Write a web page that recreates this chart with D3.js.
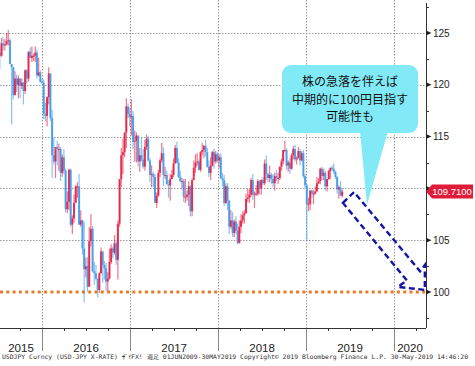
<!DOCTYPE html>
<html><head><meta charset="utf-8">
<script src="https://cdn.jsdelivr.net/npm/d3@7"></script>
<style>body{margin:0;background:#fff}svg{display:block}</style></head>
<body><svg id="c" width="475" height="366"></svg>
<script>
// ---------- data (weekly USDJPY, week ending Friday) ----------
const firstWeek = "2015-07-03";
const firstOpen = 122.3;
const close2015 = [123.1,122.8,124.0,123.8,123.9,124.2,124.3,122.0,121.7,119.0,120.6,120.0,120.6,119.9,120.2,119.4,121.4,120.6,123.2,122.6,122.8,122.8,123.1,120.9,121.2,120.3];
const high2015  = [124.0,123.6,124.5,124.6,124.4,125.0,125.3,124.5,122.0,121.7,121.3,121.0,120.9,120.6,120.6,120.3,121.5,121.5,123.2,123.6,123.7,123.0,123.7,123.4,122.6,121.4];
const low2015   = [122.0,121.5,122.7,123.3,123.3,123.8,123.8,122.0,116.2,118.6,119.2,119.3,118.7,118.7,119.6,118.1,119.1,120.1,120.3,122.6,122.2,122.3,122.2,120.6,120.8,120.2];
const close2016 = [120.2,117.2,117.0,118.8,121.1,116.8,113.2,112.6,114.0,113.8,113.8,111.5,113.0,111.7,108.0,108.7,111.8,106.5,107.1,108.6,110.2,110.2,106.5,106.9,104.2,102.2,102.5,100.5,104.9,106.1,102.0,101.8,101.3,100.2,101.8,103.9,102.6,102.3,101.0,101.3,102.9,104.2,103.8,104.7,103.1,106.6,110.9,113.2,113.5,115.4,117.9,117.2,116.9];
const high2016  = [120.6,120.5,118.3,118.9,121.7,121.0,117.6,114.9,113.6,114.6,114.3,114.0,113.3,113.8,111.9,109.7,111.9,111.9,107.4,109.4,110.3,110.6,111.4,107.9,107.0,106.8,103.3,103.4,106.3,107.5,106.4,102.9,102.6,101.3,101.9,104.3,104.0,103.0,102.8,101.9,104.2,104.6,104.4,105.5,105.0,106.9,110.9,113.9,114.8,115.4,118.7,118.2,117.8];
const low2016   = [120.1,116.7,116.5,116.0,118.1,116.5,111.0,112.3,111.0,112.2,111.7,110.7,111.1,111.4,107.7,107.6,107.9,106.3,105.6,106.7,108.7,109.1,106.5,106.3,103.6,99.0,101.4,100.0,100.6,104.4,101.9,100.7,101.1,99.5,99.9,101.8,100.9,101.2,100.1,100.1,101.2,102.7,103.3,103.6,102.6,101.2,106.3,110.1,111.4,113.0,113.9,116.8,116.0];
const close2017 = [117.0,114.5,114.6,115.1,112.6,113.2,112.8,112.1,114.0,114.8,112.7,111.3,111.4,111.1,108.6,109.3,111.5,112.7,113.4,111.3,111.3,110.4,110.3,110.9,111.3,112.4,113.9,112.5,111.1,110.7,110.7,109.2,109.2,109.4,110.2,107.8,110.8,112.0,112.5,112.6,111.8,113.5,113.7,114.1,113.5,112.1,111.5,112.2,113.5,112.6,113.3,112.7];
const high2017  = [118.6,117.5,115.6,115.4,115.1,113.9,114.9,113.8,114.7,115.2,115.0,112.9,112.2,111.6,111.4,109.6,111.8,112.9,114.4,114.0,112.1,111.7,110.8,111.4,111.8,112.9,114.2,114.5,112.9,111.7,111.0,110.9,110.9,109.8,110.7,110.3,111.0,112.7,113.3,113.4,112.8,113.6,114.4,114.2,114.7,113.9,112.7,113.0,113.6,113.8,113.6,113.5];
const low2017   = [115.1,113.8,112.6,112.5,112.1,111.6,112.6,111.9,111.7,113.7,112.6,110.6,110.1,110.1,108.7,108.1,109.2,111.1,112.5,110.2,110.9,110.4,109.1,108.8,110.9,111.1,112.4,112.4,111.0,110.6,109.9,108.7,108.6,108.8,108.3,107.3,107.3,111.2,111.5,112.2,111.7,111.6,113.2,112.9,113.1,112.0,111.1,110.8,112.1,111.9,112.4,112.5];
const close2018 = [113.0,111.0,110.8,108.6,110.2,108.8,106.3,106.9,105.7,106.8,105.9,104.7,106.3,106.9,107.4,107.6,109.0,109.1,109.4,110.8,109.4,109.5,109.5,110.7,110.0,110.8,110.5,112.4,111.4,111.0,111.3,110.9,110.5,111.2,111.0,111.0,112.1,112.6,113.7,113.7,112.2,112.5,111.9,113.2,113.8,112.8,112.9,113.6,112.7,113.4,111.2,110.3];
const high2018  = [113.3,113.4,111.5,111.3,110.5,110.5,108.9,107.9,107.7,107.0,107.3,106.6,106.9,107.5,107.8,107.9,109.5,110.0,109.9,111.0,111.4,109.7,110.3,110.9,110.8,110.9,111.1,112.8,113.2,111.5,112.2,111.5,111.4,111.5,111.8,111.5,112.1,112.9,113.7,114.6,113.9,112.7,112.9,113.4,114.1,114.2,113.1,114.0,113.8,113.6,113.7,111.4];
const low2018   = [112.0,110.9,110.2,108.3,108.5,107.9,105.6,106.1,105.3,105.3,105.6,104.6,104.8,105.7,106.6,106.6,107.6,108.7,108.6,109.2,108.9,108.1,109.3,109.3,109.4,109.4,110.3,110.3,110.8,110.6,110.6,110.4,110.1,109.8,110.7,110.4,110.8,111.7,112.3,113.5,111.8,111.6,111.4,111.8,112.8,112.6,112.3,112.9,112.2,112.6,111.0,110.0];
const close2019 = [108.5,108.5,109.8,109.5,109.5,109.7,110.5,110.7,111.9,111.2,111.5,110.2,110.9,111.7,112.0,111.9,111.6,111.1,109.9,110.1,109.3,109.7];
const high2019  = [110.4,109.1,109.8,109.9,109.8,110.2,111.1,111.0,112.0,112.1,111.9,111.7,110.9,111.8,112.0,112.2,112.4,111.7,111.2,110.3,110.7,109.9];
const low2019   = [104.9,107.8,107.9,109.1,108.5,109.4,109.7,110.4,110.4,110.8,110.8,109.8,109.7,110.8,110.9,111.7,111.4,110.9,109.5,109.0,109.3,109.1];

const yTicks = [100,105,110,115,120,125];
const yMinorTicks = [97.5,102.5,107.5,112.5,117.5,122.5,127.5];
const years = [2015,2016,2017,2018,2019,2020];
const lastPriceLabel = "109.7100";
const lastPrice = 109.71;
const targetLevel = 100;
const calloutLines = ["株の急落を伴えば","中期的に100円目指す","可能性も"];
// dashed arrow outline, in [date, value]
const arrowPts = [["2019-06-03",108.6],["2019-07-19",109.65],["2020-04-18",102.0],["2020-05-08",102.6],["2020-05-08",100.2],["2020-01-17",100.5],["2020-02-24",101.1]];
const footerText = "USDJPY Curncy (USD-JPY X-RATE) ｻﾞｲFX!  週足 01JUN2009-30MAY2019 Copyright© 2019 Bloomberg Finance L.P.  30-May-2019 14:46:20";

// ---------- build ----------
const closes = [...close2015,...close2016,...close2017,...close2018,...close2019];
const highs  = [...high2015,...high2016,...high2017,...high2018,...high2019];
const lows   = [...low2015,...low2016,...low2017,...low2018,...low2019];
const parse = d3.timeParse("%Y-%m-%d");
const start = parse(firstWeek);
const candles = closes.map((c,i)=>({
  date: d3.timeDay.offset(start, 7*i),
  o: i ? closes[i-1] : firstOpen, h: highs[i], l: lows[i], c
}));

const svg = d3.select("#c");
const axisX = 426, plotBottom = 328;
const x = d3.scaleTime().domain([new Date(2016,0,1), new Date(2020,0,1)]).range([42,394]);
const y = d3.scaleLinear().domain([100,125]).range([292,33]);

svg.append("defs").append("clipPath").attr("id","pc")
  .append("rect").attr("x",0).attr("y",0).attr("width",axisX).attr("height",plotBottom);

// horizontal gridlines
svg.append("g").selectAll("line").data(yTicks.filter(v=>v!==targetLevel)).join("line")
  .attr("x1",0).attr("x2",axisX).attr("y1",d=>Math.round(y(d))+0.5).attr("y2",d=>Math.round(y(d))+0.5)
  .attr("stroke","#9a9a9a").attr("stroke-width",1).attr("stroke-dasharray","1.5,1.5");

// vertical year separators
const yearBounds = years.slice(1).map(Y=>new Date(Y,0,1));
svg.append("g").selectAll("line").data(yearBounds).join("line")
  .attr("x1",d=>Math.round(x(d))+0.5).attr("x2",d=>Math.round(x(d))+0.5)
  .attr("y1",0).attr("y2",plotBottom)
  .attr("stroke","#9a9a9a").attr("stroke-dasharray","1.5,1.5");
svg.append("g").selectAll("line").data(yearBounds).join("line")
  .attr("x1",d=>Math.round(x(d))+0.5).attr("x2",d=>Math.round(x(d))+0.5)
  .attr("y1",plotBottom).attr("y2",351)
  .attr("stroke","#8a8a8a").attr("stroke-width",1);

// target line (orange dotted)
svg.append("line").attr("x1",0).attr("x2",axisX-1).attr("y1",y(targetLevel)).attr("y2",y(targetLevel))
  .attr("stroke","#ee7a22").attr("stroke-width",3).attr("stroke-dasharray","3,3.3");

// candles
const up = "#e8183e", down = "#3d96ea";
const cg = svg.append("g").attr("clip-path","url(#pc)");
cg.selectAll("line.w").data(candles).join("line").attr("class","w")
  .attr("x1",d=>x(d.date)).attr("x2",d=>x(d.date))
  .attr("y1",d=>y(d.h)).attr("y2",d=>y(d.l))
  .attr("stroke",d=>d.c>=d.o?up:down).attr("stroke-width",1.2).attr("stroke-opacity",0.6);
cg.selectAll("rect.b").data(candles).join("rect").attr("class","b")
  .attr("x",d=>x(d.date)-1).attr("width",2)
  .attr("y",d=>y(Math.max(d.o,d.c)))
  .attr("height",d=>Math.max(1,Math.abs(y(d.o)-y(d.c))))
  .attr("fill",d=>d.c>=d.o?up:down).attr("fill-opacity",0.85);

// x axis line & quarter ticks
svg.append("line").attr("x1",0).attr("x2",axisX).attr("y1",plotBottom+0.5).attr("y2",plotBottom+0.5)
  .attr("stroke","#333").attr("stroke-width",1);
const qTicks = d3.timeMonth.every(3).range(new Date(2015,6,1), new Date(2020,4,1)).filter(d=>d.getMonth()!==0);
svg.append("g").selectAll("line").data(qTicks).join("line")
  .attr("x1",d=>Math.round(x(d))+0.5).attr("x2",d=>Math.round(x(d))+0.5)
  .attr("y1",plotBottom).attr("y2",plotBottom+3).attr("stroke","#333");

// year labels
svg.append("g").selectAll("text").data(years).join("text")
  .attr("x",Y=>{const a=Math.max(0,x(new Date(Y,0,1))), b=Math.min(axisX,x(new Date(Y+1,0,1))); return (a+b)/2;})
  .attr("y",352).attr("text-anchor","middle")
  .attr("font-family","Liberation Sans, Arial, sans-serif").attr("font-size","11.5px").attr("fill","#222")
  .text(Y=>Y);

// y axis
svg.append("line").attr("x1",axisX+0.5).attr("x2",axisX+0.5).attr("y1",3).attr("y2",plotBottom)
  .attr("stroke","#333");
svg.append("g").selectAll("line").data(yMinorTicks).join("line")
  .attr("x1",axisX).attr("x2",axisX+3).attr("y1",d=>Math.round(y(d))+0.5).attr("y2",d=>Math.round(y(d))+0.5)
  .attr("stroke","#333");
// the 110 label sits under the last-price tag, so only its marker is drawn
const yt = svg.append("g").selectAll("g").data(yTicks).join("g")
  .attr("transform",d=>`translate(${axisX},${y(d)})`);
yt.append("path").attr("d","M0,-2.5L5.5,0L0,2.5Z").attr("fill","#222");
yt.filter(d=>Math.abs(y(d)-y(lastPrice))>8).append("text").attr("x",7).attr("y",3.6)
  .attr("font-family","Liberation Sans, Arial, sans-serif").attr("font-size","10px").attr("fill","#222")
  .text(d=>d);

// last price label
const py = y(lastPrice);
svg.append("path").attr("d",`M${axisX},${py}L${axisX+6},${py-7}L${473},${py-7}L${473},${py+7}L${axisX+6},${py+7}Z`)
  .attr("fill","#e01c3a");
svg.append("text").attr("x",452).attr("y",py+3.5).attr("text-anchor","middle")
  .attr("font-family","Liberation Sans, Arial, sans-serif").attr("font-size","9.5px").attr("fill","#fff")
  .text(lastPriceLabel);

// dashed arrow
const arrowLine = d3.line().x(d=>x(parse(d[0]))).y(d=>y(d[1])).curve(d3.curveLinearClosed);
svg.append("path").attr("d",arrowLine(arrowPts)).attr("fill","none")
  .attr("stroke","#1414a6").attr("stroke-width",2.4).attr("stroke-dasharray","6,3.5");

// callout
const cb = {x:282, y:65, w:136, h:68};
svg.append("path").attr("d",`M360,${cb.y+cb.h-2}L388,${cb.y+cb.h-2}L367,205Z`).attr("fill","#82eaf6");
svg.append("rect").attr("x",cb.x).attr("y",cb.y).attr("width",cb.w).attr("height",cb.h).attr("rx",9)
  .attr("fill","#82eaf6");
svg.append("g").selectAll("text").data(calloutLines).join("text")
  .attr("x",cb.x+cb.w/2).attr("y",(d,i)=>86+i*17.5).attr("text-anchor","middle")
  .attr("font-family","Noto Sans CJK JP, sans-serif").attr("font-size","12px").attr("fill","#111")
  .text(d=>d);

// footer
svg.append("text").attr("x",2).attr("y",359).attr("textLength",466).attr("lengthAdjust","spacingAndGlyphs")
  .attr("font-family","DejaVu Sans Mono, monospace").attr("font-size","6.2px").attr("fill","#333")
  .text(footerText);
</script></body></html>
